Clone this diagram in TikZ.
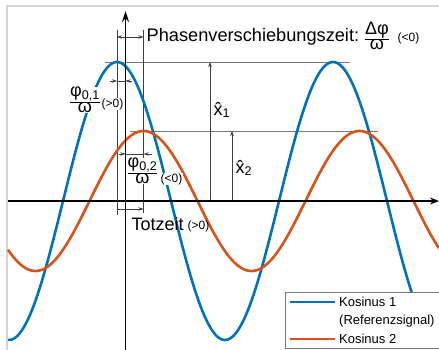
\documentclass[tikz,border=0pt]{standalone}
\usepackage{fontspec}
\setmainfont{Liberation Sans}
\usetikzlibrary{arrows.meta}
\definecolor{cblue}{RGB}{0,114,189}
\definecolor{corange}{RGB}{217,83,25}
\definecolor{framegrey}{RGB}{212,212,212}
\definecolor{guidegrey}{RGB}{120,120,120}
\newcommand\myfr[2]{$\frac{\hbox{\rule[-4pt]{0pt}{1pt}#1}}{\hbox{\rule{0pt}{10pt}#2}}$}
\begin{document}
\begin{tikzpicture}[x=1pt,y=-1pt,
  curve/.style={line width=2.6pt},
  axisline/.style={line width=1.3pt},
  guideline/.style={guidegrey, line width=0.8pt},
  dimline/.style={black!75, line width=0.6pt},
  tipped/.style={-{Stealth[length=5pt,width=3.5pt]}},
  twotip/.style={{Stealth[length=5pt,width=3.5pt]}-{Stealth[length=5pt,width=3.5pt]}},
  lbl/.style={font=\fontsize{18}{20}\selectfont, inner sep=0.5pt, fill=white},
  smalllbl/.style={font=\fontsize{12}{14}\selectfont, inner sep=0.5pt, fill=white},
  legtxt/.style={font=\fontsize{13}{15}\selectfont, inner sep=0pt, anchor=west},
]
\useasboundingbox (0,0) rectangle (439,350);
\clip (0,0) rectangle (439,350);
\fill[white] (0,0) rectangle (439,350);
\draw[framegrey, line width=1.5pt] (7,360) -- (7,6) -- (460,6);

% key points
\coordinate (O) at (125.5,201);
\coordinate (PB) at (117,62);
\coordinate (PO) at (143.5,131);

% guide lines
\coordinate (hb1) at (105,62);  \coordinate (hb2) at (350,62);
\coordinate (ho1) at (130,131); \coordinate (ho2) at (378,131);
\draw[guideline] (hb1) -- (hb2);
\draw[guideline] (ho1) -- (ho2);
\coordinate (vb1) at (117,30);  \coordinate (vb2) at (117,215);
\coordinate (vo1) at (143.5,30);  \coordinate (vo2) at (143.5,213);
\draw[dimline] (vb1) -- (vb2);
\draw[dimline] (vo1) -- (vo2);

% amplitude arrows
\coordinate (a1b) at (210,201); \coordinate (a1t) at (210,62);
\coordinate (a2b) at (232,201); \coordinate (a2t) at (232,131);
\draw[dimline, tipped] (a1b) -- (a1t);
\draw[dimline, tipped] (a2b) -- (a2t);

% curves
\draw[curve, cblue] plot[domain=8:439, samples=220] (\x, {201-139*cos(1.666667*(\x-117))});
\draw[curve, corange] plot[domain=8:439, samples=220] (\x, {201-70*cos(1.666667*(\x-143.5))});

% phase shift arrow (top)
\coordinate (ph1) at (117,37); \coordinate (ph2) at (143.5,37);
\draw[dimline, twotip] (ph1) -- (ph2);

% phi01 arrows
\coordinate (f1a) at (110,81); \coordinate (f1b) at (117,81);
\coordinate (f1c) at (125.5,81); \coordinate (f1d) at (132,81);
\draw[dimline, tipped] (f1a) -- (f1b);
\draw[dimline] (f1b) -- (f1c);
\draw[dimline, tipped] (f1d) -- (f1c);

% phi02 arrows
\coordinate (f2a) at (119,154); \coordinate (f2b) at (125.5,154);
\coordinate (f2c) at (143.5,154); \coordinate (f2d) at (152,154);
\draw[dimline, tipped] (f2a) -- (f2b);
\draw[dimline] (f2b) -- (f2c);
\draw[dimline, tipped] (f2d) -- (f2c);

% Totzeit arrow
\coordinate (tz1) at (117,209); \coordinate (tz2) at (143.5,209);
\draw[dimline, tipped] (tz1) -- (tz2);

% labels
\node[lbl, font=\fontsize{18.2}{20}\selectfont, anchor=base west, fill=none] (phtxt) at (146,42) {Phasenverschiebungszeit:};
\node[lbl, fill=none] (phfr) at (377,36) {\myfr{Δφ}{ω}};
\node[smalllbl, anchor=west, fill=none] (phsm) at (397,38) {(<0)};

\node[lbl] (f1fr) at (85,100) {\myfr{φ\textsubscript{0,1}}{ω}};
\node[smalllbl, anchor=west] (f1sm) at (101,104) {(>0)};

\node[lbl] (f2fr) at (142.5,171) {\myfr{φ\textsubscript{0,2}}{ω}};
\node[smalllbl, anchor=west] (f2sm) at (160,179) {(<0)};

\node[lbl, anchor=west, fill=none] (tztxt) at (131,224) {Totzeit};
\node[smalllbl, anchor=west, fill=none] (tzsm) at (187,226) {(>0)};

\node[lbl, fill=none] (x1) at (222,110) {x̂\textsubscript{1}};
\node[lbl, fill=none] (x2) at (244,168) {x̂\textsubscript{2}};

% axes
\coordinate (yb) at (125.5,352); \coordinate (yt) at (125.5,11);
\coordinate (xl) at (8,201); \coordinate (xr) at (439,201);
\draw[axisline, -{Stealth[length=11pt,width=7pt]}] (yb) -- (yt);
\draw[axisline, -{Stealth[length=9pt,width=7pt]}] (xl) -- (xr);

% legend
\node[draw=guidegrey, fill=white, line width=0.8pt, minimum width=180pt, minimum height=56pt, anchor=north west, inner sep=0pt] (leg) at (285,292) {};
\coordinate (l1a) at (290,302); \coordinate (l1b) at (335,302);
\coordinate (l2a) at (290,339); \coordinate (l2b) at (335,339);
\draw[curve, cblue, line width=2.2pt] (l1a) -- (l1b);
\draw[curve, corange, line width=2.2pt] (l2a) -- (l2b);
\node[legtxt] (k1) at (339,302) {Kosinus 1};
\node[legtxt] (k1r) at (339,321) {(Referenzsignal)};
\node[legtxt] (k2) at (339,339) {Kosinus 2};
\end{tikzpicture}
\end{document}
